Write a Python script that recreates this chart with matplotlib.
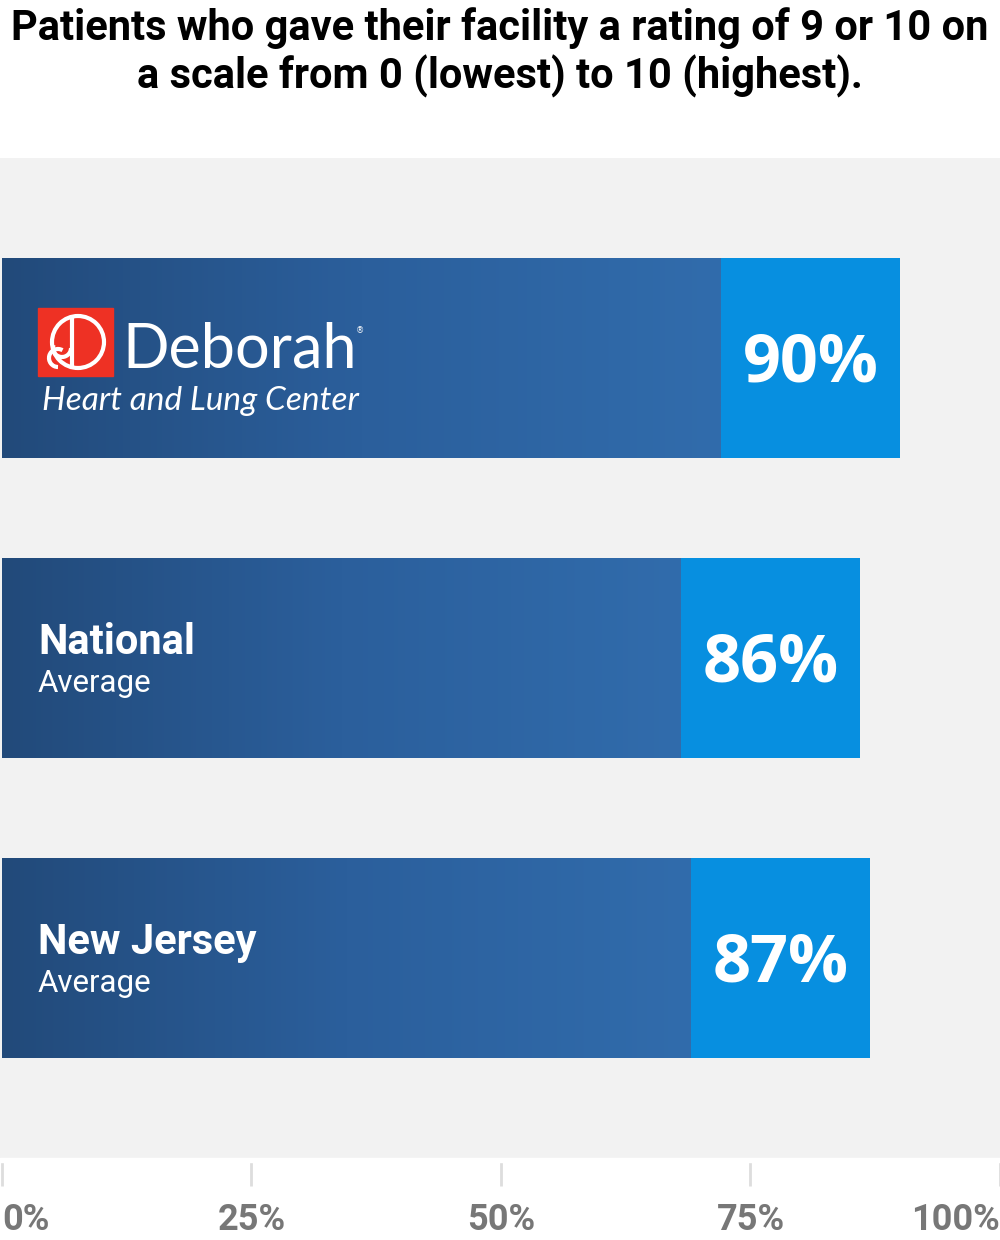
import numpy as np
import matplotlib
matplotlib.use('Agg')
import matplotlib.pyplot as plt
from matplotlib.colors import LinearSegmentedColormap
from matplotlib.patches import Rectangle, Arc, Circle

# chart data
categories = ["Deborah", "National", "New Jersey"]
values = [90, 86, 87]
value_labels = ["90%", "86%", "87%"]
tick_values = [0, 25, 50, 75, 100]
tick_labels = ["0%", "25%", "50%", "75%", "100%"]
title = ("Patients who gave their facility a rating of 9 or 10 on\n"
         "a scale from 0 (lowest) to 10 (highest).")

W, H = 1000, 1240
BOX = 18          # width of the bright value box, in % units
BAR_H = 2 / 3

fig = plt.figure(figsize=(W / 100, H / 100), dpi=100, facecolor='white')

# main bar axes: pixel rows 158..1158
ax = fig.add_axes([0, (H - 1158) / H, 1, 1000 / H])
ax.set_facecolor('#f2f2f2')
for s in ax.spines.values():
    s.set_visible(False)

grad = LinearSegmentedColormap.from_list('bar', ['#224a7a', '#2b5f9c', '#316cac'])
g = np.linspace(0, 1, 256).reshape(1, -1)

for i, v in enumerate(values):
    # bright value box
    ax.barh(i, v, height=BAR_H, color='#078fe0', left=0, zorder=2)
    # gradient part
    im = ax.imshow(g, cmap=grad, aspect='auto', zorder=3,
                   extent=[0, v - BOX, i + BAR_H / 2, i - BAR_H / 2])
    clip = Rectangle((0, i - BAR_H / 2), v - BOX, BAR_H, transform=ax.transData)
    im.set_clip_path(clip)
    ax.text(v - BOX / 2, i + 0.02, value_labels[i], ha='center', va='center',
            color='white', fontsize=48, fontweight='bold', family='Open Sans',
            zorder=5)

# text labels for the two averages
for i, name in [(1, "National"), (2, "New Jersey")]:
    ax.text(3.6, i - 0.013, name, ha='left', va='baseline', color='white',
            fontsize=30, fontweight='bold', family='Roboto', zorder=5)
    ax.text(3.6, i + 0.113, "Average", ha='left', va='baseline', color='white',
            fontsize=22.5, family='Roboto', zorder=5)

ax.set_xlim(-0.2, 100.0)
ax.set_ylim(len(values) - 1 + 2 / 3, -2 / 3)
ax.set_yticks([])
ax.set_xticks(tick_values)
ax.set_xticklabels(tick_labels, fontsize=26, fontweight='bold', family='Roboto',
                   color='#777777')
ax.tick_params(axis='x', length=20, width=2, color='#dddddd', pad=12)
lbls = ax.get_xticklabels()
lbls[0].set_horizontalalignment('left')
lbls[-1].set_horizontalalignment('right')
# white strip leaves the small gap between plot area and tick marks
fig.add_artist(Rectangle((0, (H - 1162) / H), 1, 4 / H, transform=fig.transFigure,
                         color='white', zorder=10))

# title
fig.text(0.5, 1 - 7 / H, title, ha='center', va='top', fontsize=30,
         fontweight='bold', family='Roboto', color='black', linespacing=1.17)

# Deborah logo, drawn in pixel coordinates
lx = fig.add_axes([0, 0, 1, 1], facecolor='none')
lx.set_xlim(0, W)
lx.set_ylim(H, 0)
lx.axis('off')
lx.add_patch(Rectangle((38, 308), 75, 68, color='#ee3124', zorder=1))
lx.add_patch(Circle((78, 342), 26, fill=False, ec='white', lw=3, zorder=2))
lx.plot([72, 72], [318, 367], color='white', lw=3, zorder=2)
lx.add_patch(Arc((58, 358), 18, 18, theta1=90, theta2=300, ec='white', lw=3, zorder=2))
lx.add_patch(Arc((62, 348), 18, 18, theta1=0, theta2=200, ec='white', lw=3, zorder=2))
lx.text(122, 368, "Deborah", ha='left', va='baseline', color='white',
        fontsize=44, family='Lato')
lx.text(356, 333, "®", ha='left', va='baseline', color='white', fontsize=6,
        family='DejaVu Sans')
lx.text(42, 410, "Heart and Lung Center", ha='left', va='baseline', color='white',
        fontsize=24, family='Lato', style='italic')

fig.savefig('out.png', dpi=100, facecolor='white')
